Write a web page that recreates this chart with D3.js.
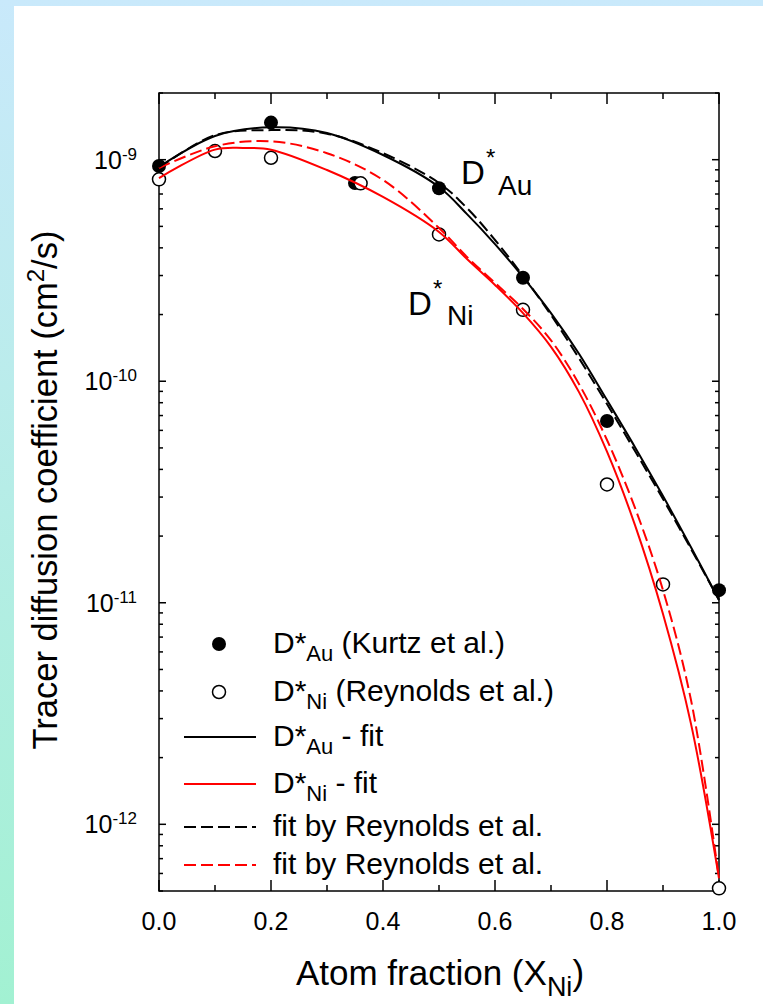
<!DOCTYPE html>
<html><head><meta charset="utf-8">
<script src="https://cdn.jsdelivr.net/npm/d3@7"></script>
<style>
html,body{margin:0;padding:0;background:#fff;}
svg{display:block;}
text{font-family:"Liberation Sans",Arial,Helvetica,sans-serif;fill:#000;}
</style>
</head><body>
<svg id="chart" width="763" height="1004"></svg>
<script>
// ---------- data ----------
const xTickValues = [0, 0.2, 0.4, 0.6, 0.8, 1.0];
const xTickLabels = ["0.0", "0.2", "0.4", "0.6", "0.8", "1.0"];
const xMinorTicks = [0.1, 0.3, 0.5, 0.7, 0.9];
const yDecades = [1e-12, 1e-11, 1e-10, 1e-9];
const yDecadeExps = ["-12", "-11", "-10", "-9"];

// measured points
const auX = [0, 0.2, 0.35, 0.5, 0.65, 0.8, 1.0];
const auD = [9.36e-10, 1.47e-9, 7.85e-10, 7.43e-10, 2.93e-10, 6.61e-11, 1.14e-11];
const niX = [0, 0.1, 0.2, 0.36, 0.5, 0.65, 0.8, 0.9, 1.0];
const niD = [8.15e-10, 1.094e-9, 1.02e-9, 7.82e-10, 4.60e-10, 2.10e-10, 3.42e-11, 1.21e-11, 5.14e-13];

// fitted curves
const auFitX = [0, 0.1, 0.2, 0.3, 0.4, 0.5, 0.55, 0.6, 0.65, 0.7, 0.75, 0.8, 0.85, 0.9, 0.95, 1.0];
const auFitD = [9.27e-10, 1.28e-9, 1.40e-9, 1.32e-9, 1.05e-9, 7.53e-10, 5.68e-10, 4.16e-10, 2.95e-10, 2.03e-10, 1.33e-10, 8.22e-11, 5.04e-11, 3.03e-11, 1.78e-11, 1.03e-11];
const auRevX = [0, 0.1, 0.2, 0.3, 0.4, 0.5, 0.55, 0.6, 0.65, 0.7, 0.75, 0.8, 0.85, 0.9, 0.95, 1.0];
const auRevD = [9.17e-10, 1.29e-9, 1.36e-9, 1.31e-9, 1.07e-9, 7.85e-10, 6.05e-10, 4.34e-10, 2.99e-10, 1.99e-10, 1.27e-10, 7.89e-11, 4.84e-11, 2.94e-11, 1.75e-11, 1.03e-11];
const niFitX = [0, 0.1, 0.15, 0.2, 0.3, 0.4, 0.5, 0.55, 0.6, 0.65, 0.7, 0.75, 0.8, 0.85, 0.9, 0.95, 1.0];
const niFitD = [8.26e-10, 1.11e-9, 1.13e-9, 1.11e-9, 8.98e-10, 6.79e-10, 4.72e-10, 3.56e-10, 2.72e-10, 2.03e-10, 1.43e-10, 8.93e-11, 4.81e-11, 2.24e-11, 8.89e-12, 2.84e-12, 5.71e-13];
const niRevX = [0, 0.1, 0.2, 0.3, 0.4, 0.5, 0.55, 0.6, 0.65, 0.7, 0.75, 0.8, 0.85, 0.9, 0.95, 1.0];
const niRevD = [9.17e-10, 1.15e-9, 1.21e-9, 1.07e-9, 8.10e-10, 4.92e-10, 3.64e-10, 2.78e-10, 2.12e-10, 1.53e-10, 9.71e-11, 5.43e-11, 2.68e-11, 1.14e-11, 3.64e-12, 5.71e-13];

const legendLabels = [
  {main: "D*", sub: "Au", rest: " (Kurtz et al.)"},
  {main: "D*", sub: "Ni", rest: " (Reynolds et al.)"},
  {main: "D*", sub: "Au", rest: " - fit"},
  {main: "D*", sub: "Ni", rest: " - fit"},
  {main: "fit by Reynolds et al.", sub: "", rest: ""},
  {main: "fit by Reynolds et al.", sub: "", rest: ""}
];

// ---------- drawing ----------
const svg = d3.select("#chart");
const W = 763, H = 1004;
const defs = svg.append("defs");
const grad = defs.append("linearGradient").attr("id", "bg").attr("x1", 0).attr("y1", 0).attr("x2", 0).attr("y2", 1);
grad.append("stop").attr("offset", "0%").attr("stop-color", "#c9e9fb");
grad.append("stop").attr("offset", "100%").attr("stop-color", "#a2f1d2");
svg.append("rect").attr("width", W).attr("height", H).attr("fill", "url(#bg)");
svg.append("rect").attr("x", 14).attr("y", 6).attr("width", W - 14).attr("height", H - 6).attr("fill", "#fff");

const L = 159, R = 719, T = 93, B = 891;
const x = d3.scaleLinear().domain([0, 1]).range([L, R]);
const y = d3.scaleLog().domain([5e-13, 2e-9]).range([B, T]);

const axisG = svg.append("g").attr("stroke", "#000").attr("stroke-width", 1.5);
axisG.append("rect").attr("x", L).attr("y", T).attr("width", R - L).attr("height", B - T).attr("fill", "none");
xTickValues.forEach(v => {
  axisG.append("line").attr("x1", x(v)).attr("x2", x(v)).attr("y1", B).attr("y2", B - 11);
  axisG.append("line").attr("x1", x(v)).attr("x2", x(v)).attr("y1", T).attr("y2", T + 11);
});
xMinorTicks.forEach(v => {
  axisG.append("line").attr("x1", x(v)).attr("x2", x(v)).attr("y1", B).attr("y2", B - 6);
  axisG.append("line").attr("x1", x(v)).attr("x2", x(v)).attr("y1", T).attr("y2", T + 6);
});
yDecades.forEach(v => {
  axisG.append("line").attr("x1", L).attr("x2", L + 7).attr("y1", y(v)).attr("y2", y(v));
  axisG.append("line").attr("x1", R).attr("x2", R - 7).attr("y1", y(v)).attr("y2", y(v));
});
const [yMin, yMax] = y.domain();
const minor = [];
[1e-13, 1e-12, 1e-11, 1e-10, 1e-9].forEach(dec => {
  for (let k = 2; k <= 9; k++) {
    const v = dec * k;
    if (v >= yMin * 0.999 && v <= yMax * 1.001) minor.push(v);
  }
});
minor.forEach(v => {
  axisG.append("line").attr("x1", L).attr("x2", L + 4).attr("y1", y(v)).attr("y2", y(v));
  axisG.append("line").attr("x1", R).attr("x2", R - 4).attr("y1", y(v)).attr("y2", y(v));
});

// x tick labels
xTickValues.forEach((v, i) => {
  svg.append("text").attr("x", x(v)).attr("y", 930).attr("text-anchor", "middle")
    .attr("font-size", 25).text(xTickLabels[i]);
});
// y tick labels
yDecades.forEach((v, i) => {
  const t = svg.append("text").attr("x", 137).attr("y", y(v) + 9).attr("text-anchor", "end");
  t.append("tspan").attr("font-size", 25).text("10");
  t.append("tspan").attr("font-size", 17).attr("dy", -9).text(yDecadeExps[i]);
});

// axis titles
const xt = svg.append("text").attr("x", 440).attr("y", 985).attr("text-anchor", "middle").attr("font-size", 35);
xt.append("tspan").text("Atom fraction (X");
xt.append("tspan").attr("font-size", 27).attr("dy", 11).text("Ni");
xt.append("tspan").attr("dy", -11).text(")");

const yt = svg.append("text").attr("transform", "translate(57,490) rotate(-90)").attr("text-anchor", "middle").attr("font-size", 34.5);
yt.append("tspan").text("Tracer diffusion coefficient (cm");
yt.append("tspan").attr("font-size", 24).attr("dy", -13).text("2");
yt.append("tspan").attr("dy", 13).text("/s)");

// markers
const auPts = auX.map((v, i) => [v, auD[i]]);
const niPts = niX.map((v, i) => [v, niD[i]]);
svg.append("g").selectAll("circle").data(auPts).join("circle")
  .attr("cx", d => x(d[0])).attr("cy", d => y(d[1])).attr("r", 7).attr("fill", "#000");
svg.append("g").selectAll("circle").data(niPts).join("circle")
  .attr("cx", d => x(d[0])).attr("cy", d => y(d[1])).attr("r", 6.5)
  .attr("fill", "#fff").attr("stroke", "#000").attr("stroke-width", 1.5);

// curves
const line = d3.line().x(d => x(d[0])).y(d => y(d[1])).curve(d3.curveCatmullRom.alpha(0.5));
const curves = [
  {xs: auRevX, ds: auRevD, color: "#000", dash: "12,5"},
  {xs: niRevX, ds: niRevD, color: "#ff0000", dash: "12,5"},
  {xs: niFitX, ds: niFitD, color: "#ff0000", dash: null},
  {xs: auFitX, ds: auFitD, color: "#000", dash: null}
];
curves.forEach(c => {
  svg.append("path").datum(c.xs.map((v, i) => [v, c.ds[i]]))
    .attr("d", line).attr("fill", "none").attr("stroke", c.color).attr("stroke-width", 2)
    .attr("stroke-dasharray", c.dash);
});

// in-plot annotations
const a1 = svg.append("text").attr("font-size", 33);
a1.append("tspan").attr("x", 461).attr("y", 184).text("D");
a1.append("tspan").attr("x", 486).attr("y", 166).attr("font-size", 24).text("*");
a1.append("tspan").attr("x", 498).attr("y", 195).attr("font-size", 28).text("Au");
const a2 = svg.append("text").attr("font-size", 33);
a2.append("tspan").attr("x", 408).attr("y", 315).text("D");
a2.append("tspan").attr("x", 433).attr("y", 297).attr("font-size", 24).text("*");
a2.append("tspan").attr("x", 447).attr("y", 325).attr("font-size", 28).text("Ni");

// legend
const legY = [644, 692, 737, 784, 827, 865];
const lg = svg.append("g");
lg.append("circle").attr("cx", 219).attr("cy", legY[0]).attr("r", 7).attr("fill", "#000");
lg.append("circle").attr("cx", 219).attr("cy", legY[1]).attr("r", 6.5).attr("fill", "#fff").attr("stroke", "#000").attr("stroke-width", 1.5);
const legLines = [
  {i: 2, color: "#000", dash: null},
  {i: 3, color: "#ff0000", dash: null},
  {i: 4, color: "#000", dash: "12,5"},
  {i: 5, color: "#ff0000", dash: "12,5"}
];
legLines.forEach(l => {
  lg.append("line").attr("x1", 184).attr("x2", 256).attr("y1", legY[l.i]).attr("y2", legY[l.i])
    .attr("stroke", l.color).attr("stroke-width", 2).attr("stroke-dasharray", l.dash);
});
legendLabels.forEach((lab, i) => {
  const t = lg.append("text").attr("x", 273).attr("y", legY[i] + 9).attr("font-size", 30);
  t.append("tspan").text(lab.main);
  if (lab.sub) {
    t.append("tspan").attr("font-size", 22).attr("dy", 8).text(lab.sub);
    t.append("tspan").attr("dy", -8).text(lab.rest);
  }
});
</script>
</body></html>
